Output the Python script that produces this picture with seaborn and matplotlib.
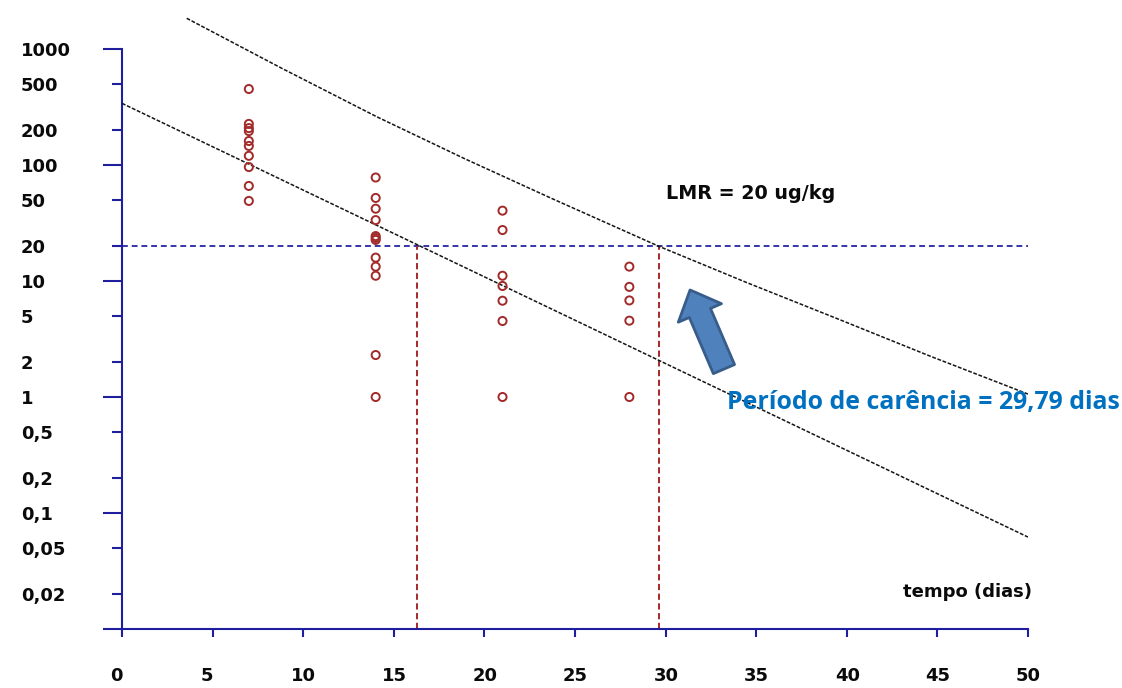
import numpy as np
import pandas as pd
import matplotlib
matplotlib.use("Agg")
import matplotlib.pyplot as plt
import matplotlib.ticker as mticker
from matplotlib.transforms import ScaledTranslation
from matplotlib.patches import FancyArrowPatch, ArrowStyle
import seaborn as sns

# ---------------- data ----------------
conc_d7 = [452, 226, 208, 196, 161, 146, 120, 96, 66, 49]
conc_d14 = [78, 52, 42, 33.5, 24.4, 23.5, 22.6, 15.9, 13.3, 11.1, 2.3, 1.0]
conc_d21 = [40.4, 27.5, 11.1, 9.06, 6.76, 4.52, 1.0]
conc_d28 = [13.3, 8.9, 6.8, 4.55, 1.0]
sample_days = [7, 14, 21, 28]

reg_days = [0, 50]
reg_conc = [340, 0.062]

upper_days = [3.57, 8.8, 14.05, 18.9, 23.7, 29.6, 34.5, 39.42, 44.6, 50]
upper_conc = [1840, 684, 261, 113.5, 51.6, 20, 9.66, 4.77, 2.25, 1.06]

lmr_value = 20
lmr_days = [0, 50]
cross_days = [16.3, 29.65]

x_ticks = [0, 5, 10, 15, 20, 25, 30, 35, 40, 45, 50]
y_major = [0.01, 0.1, 1, 10, 100, 1000]
y_major_labels = ["", "0,1", "1", "10", "100", "1000"]
y_minor = [0.02, 0.05, 0.2, 0.5, 2, 5, 20, 50, 200, 500]
y_minor_labels = ["0,02", "0,05", "0,2", "0,5", "2", "5", "20", "50", "200", "500"]

lmr_text = "LMR = 20 ug/kg"
xlabel_text = "tempo (dias)"
period_text = "Período de carência = 29,79 dias"

# ---------------- build ----------------
groups = [conc_d7, conc_d14, conc_d21, conc_d28]
df = pd.DataFrame({
    "dia": np.concatenate([[d] * len(g) for d, g in zip(sample_days, groups)]),
    "conc": np.concatenate(groups),
})

sns.set_style("white")
plt.rcParams["font.family"] = ["DejaVu Sans"]

W, H = 1122, 688
fig = plt.figure(figsize=(W / 100, H / 100), dpi=100)
ax = fig.add_axes([122 / W, 1 - 629 / H, 906 / W, (629 - 14) / H])

axis_col = "#1e1e9e"
red_col = "#a32a2a"
txt_col = "#0a0a0a"

ax.set_yscale("log")
ax.set_xlim(0, 50)
ax.set_ylim(0.01, 10 ** (3 + 35 / 116))

# lines
sns.lineplot(x=reg_days, y=reg_conc, ax=ax, color="#151515", lw=1.1,
             linestyle=(0, (2.5, 1.1)), zorder=3)
sns.lineplot(x=upper_days, y=upper_conc, ax=ax, color="#151515", lw=1.1,
             linestyle=(0, (2.5, 1.1)), zorder=3)
sns.lineplot(x=lmr_days, y=[lmr_value, lmr_value], ax=ax, color="#3535a8",
             lw=1.4, linestyle=(0, (3, 2)), zorder=2)
for d in cross_days:
    ax.plot([d, d], [0.01, lmr_value], color=red_col, lw=1.4,
            linestyle=(0, (3.2, 1.8)), zorder=2)

# points
sns.scatterplot(data=df, x="dia", y="conc", ax=ax, marker="o", s=34,
                facecolor="none", edgecolor=red_col, linewidth=1.4, zorder=4)

# spines
for s in ["top", "right"]:
    ax.spines[s].set_visible(False)
for s in ["left", "bottom"]:
    ax.spines[s].set_color(axis_col)
    ax.spines[s].set_linewidth(1.5)
ax.spines["left"].set_bounds(0.01, 1000)

# ticks
ax.yaxis.set_major_locator(mticker.FixedLocator(y_major))
ax.yaxis.set_major_formatter(mticker.FixedFormatter(y_major_labels))
ax.yaxis.set_minor_locator(mticker.FixedLocator(y_minor))
ax.yaxis.set_minor_formatter(mticker.FixedFormatter(y_minor_labels))
ax.set_xticks(x_ticks)
ax.set_xticklabels([str(v) for v in x_ticks])

ax.tick_params(axis="y", which="major", direction="out", length=13.7, width=1.5,
               color=axis_col, pad=59, labelsize=13, left=True, labelcolor=txt_col)
ax.tick_params(axis="y", which="minor", direction="out", length=7.2, width=1.5,
               color=axis_col, pad=65.5, labelsize=13, left=True, labelcolor=txt_col)
ax.tick_params(axis="x", which="major", direction="out", length=5.8, width=1.5,
               color=axis_col, pad=21.5, labelsize=13, bottom=True, labelcolor=txt_col)
ax.tick_params(axis="x", which="minor", bottom=False)

for lab in ax.get_yticklabels(which="both"):
    lab.set_horizontalalignment("left")
    lab.set_fontweight("bold")
off = ScaledTranslation(-12 / 100, 0, fig.dpi_scale_trans)
for lab in ax.get_xticklabels():
    lab.set_horizontalalignment("left")
    lab.set_fontweight("bold")
    lab.set_transform(lab.get_transform() + off)

ax.set_xlabel("")
ax.set_ylabel("")
ax.grid(False)

# annotations
ax.text(30, 57, lmr_text, ha="left", va="center", fontsize=13.8,
        fontweight="bold", color=txt_col)
ax.text(50.2, 0.0209, xlabel_text, ha="right", va="center", fontsize=13,
        fontweight="bold", color=txt_col)
fig.text(727 / W, 1 - 403 / H, period_text, ha="left", va="center",
         fontsize=17.9, fontweight="bold", color="#0070c0",
         family=["Open Sans", "DejaVu Sans"])

# block arrow pointing at the crossing
arrow = FancyArrowPatch(posA=(33.22, 1.74), posB=(31.35, 8.37),
                        arrowstyle=ArrowStyle.Simple(head_length=18, head_width=33.8,
                                                     tail_width=16.6),
                        mutation_scale=1, facecolor="#4f81bd", edgecolor="#385d8a",
                        linewidth=2.0, zorder=5, shrinkA=0, shrinkB=0)
ax.add_patch(arrow)

fig.savefig("out.png", dpi=100)
